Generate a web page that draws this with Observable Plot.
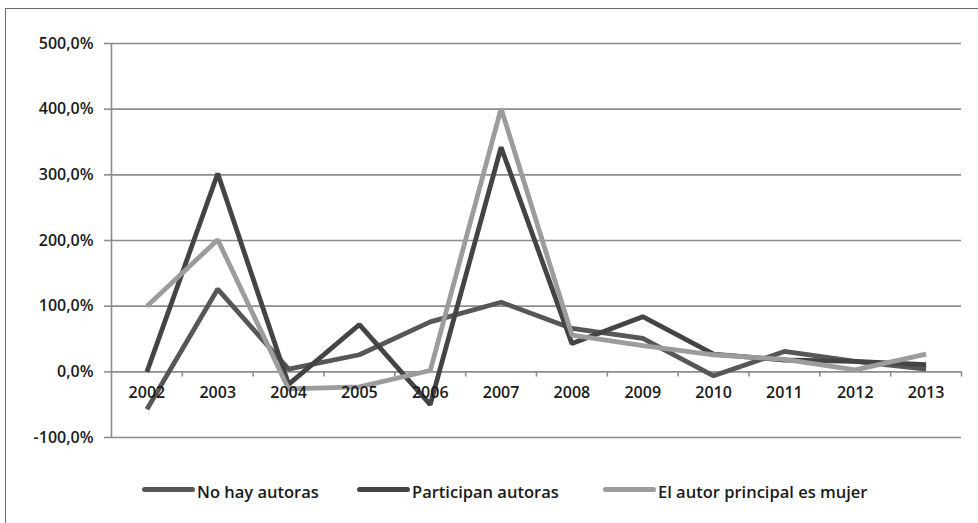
<!DOCTYPE html>
<html>
<head>
<meta charset="utf-8">
<script src="https://cdn.jsdelivr.net/npm/d3@7"></script>
<script src="https://cdn.jsdelivr.net/npm/@observablehq/plot@0.6"></script>
<style>
  html, body { margin: 0; padding: 0; background: #fff; }
  body { width: 978px; height: 523px; position: relative; overflow: hidden; font-family: "Open Sans", sans-serif; }
  #frame { position: absolute; left: 5px; top: 8px; width: 1000px; height: 540px; border-top: 1.5px solid #6a6a6a; border-left: 1.5px solid #6a6a6a; }
  #chart { position: absolute; left: 0; top: 0; }
  .legend-item { position: absolute; top: 480px; display: flex; align-items: center; font-size: 16.5px; font-weight: 600; color: #1a1a1a; white-space: nowrap; }
  .legend-item .sw { width: 53px; height: 5px; border-radius: 3px; margin-right: 2px; margin-top: -5px; }
</style>
</head>
<body>
<div id="frame"></div>
<div id="chart"></div>
<div id="legend"></div>
<script>
const years = [2002, 2003, 2004, 2005, 2006, 2007, 2008, 2009, 2010, 2011, 2012, 2013];
const seriesNames = ["No hay autoras", "Participan autoras", "El autor principal es mujer"];
const noHayAutoras = [-57, 126, 4, 26, 76, 106, 66, 51, -6, 31, 16, 4];
const participanAutoras = [0, 302, -19, 72, -50, 342, 43, 84, 27, 18, 16, 11];
const autorPrincipalMujer = [100, 201, -26, -23, 2, 401, 56, 40, 26, 19, 3, 27];
const yTicks = [-100, 0, 100, 200, 300, 400, 500];
const seriesColors = ["#575757", "#444444", "#9c9c9c"];

const seriesValues = [noHayAutoras, participanAutoras, autorPrincipalMujer];
const data = [];
seriesNames.forEach((name, i) => {
  years.forEach((yr, j) => data.push({series: name, year: yr, value: seriesValues[i][j]}));
});
const boundaries = years.map(y => y + 0.5);
const fmt = d => d.toFixed(1).replace(".", ",") + "%";

const chart = Plot.plot({
  width: 978,
  height: 460,
  marginLeft: 111,
  marginRight: 17,
  marginTop: 43,
  marginBottom: 23,
  style: {fontFamily: "Open Sans, sans-serif", fontSize: "16px", fontWeight: 600, color: "#1a1a1a", background: "transparent"},
  x: {domain: [years[0] - 0.5, years[years.length - 1] + 0.5], axis: null},
  y: {domain: [-100, 500], axis: null},
  color: {domain: seriesNames, range: seriesColors},
  marks: [
    Plot.ruleY(yTicks, {stroke: "#8c8c8c", strokeWidth: 1.6}),
    Plot.axisY({ticks: yTicks, tickFormat: fmt, tickSize: 7, tickPadding: 11, stroke: "#8c8c8c", strokeWidth: 1.6, fill: "#1a1a1a", fontSize: 16, label: null}),
    Plot.ruleX([years[0] - 0.5], {stroke: "#8c8c8c", strokeWidth: 1.6}),
    Plot.ruleX(boundaries, {y1: -8, y2: 0, stroke: "#8c8c8c", strokeWidth: 1.6}),
    Plot.line(data, {x: "year", y: "value", z: "series", stroke: "series", strokeWidth: 4.8, strokeLinejoin: "miter", strokeLinecap: "butt"}),
    Plot.text(years, {x: d => d, y: 0, dy: 21, text: d => String(d), fill: "#1a1a1a", fontSize: 16})
  ]
});
document.getElementById("chart").appendChild(chart);

const legendStarts = [142, 357, 603];
const legend = document.getElementById("legend");
seriesNames.forEach((name, i) => {
  const item = document.createElement("div");
  item.className = "legend-item";
  item.style.left = legendStarts[i] + "px";
  const sw = document.createElement("span");
  sw.className = "sw";
  sw.style.background = seriesColors[i];
  const lab = document.createElement("span");
  lab.textContent = name;
  item.appendChild(sw);
  item.appendChild(lab);
  legend.appendChild(item);
});
</script>
</body>
</html>
